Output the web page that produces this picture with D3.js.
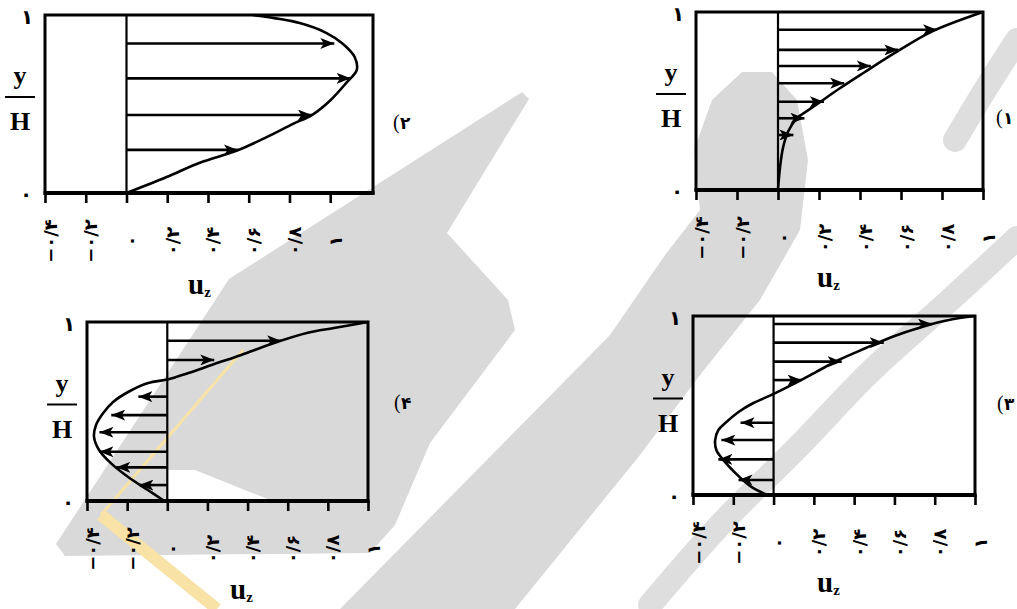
<!DOCTYPE html>
<html><head><meta charset="utf-8">
<script src="https://cdn.jsdelivr.net/npm/d3@7"></script>
<style>body{margin:0;background:#fff}svg{display:block}</style>
</head><body><svg id="c" width="1017" height="609"></svg>
<script>
// ---------- data ----------
const xTicks = [-0.4, -0.2, 0, 0.2, 0.4, 0.6, 0.8, 1];
const xTickLabels = ["−۰/۴", "−۰/۲", "۰", "۰/۲", "۰/۴", "۰/۶", "۰/۸", "۱"];
const yEndLabels = ["۰", "۱"];
const panelNames = ["(۱", "(۲", "(۳", "(۴"];
const axisTitleX = "u", axisTitleXSub = "z", axisTitleYTop = "y", axisTitleYBottom = "H";

// panel (1): profile from zero at wall to 1 at top
const p1CurveY = [0, 0.13, 0.24, 0.33, 0.40, 0.45, 0.49, 0.57, 0.66, 0.77, 0.89, 1.0];
const p1CurveU = [0, 0.01, 0.025, 0.05, 0.09, 0.15, 0.20, 0.30, 0.42, 0.57, 0.75, 1.0];
const p1ArrowY = [0.309, 0.403, 0.496, 0.60, 0.697, 0.787, 0.90];
const p1ArrowU = [0.075, 0.129, 0.224, 0.323, 0.453, 0.587, 0.776];

// panel (2)
const p2CurveY = [0, 0.09, 0.17, 0.24, 0.315, 0.39, 0.438, 0.52, 0.62, 0.69, 0.764, 0.84, 0.90, 0.955, 1.0];
const p2CurveU = [0, 0.197, 0.36, 0.546, 0.69, 0.82, 0.91, 1.0, 1.08, 1.13, 1.12, 1.06, 0.98, 0.85, 0.62];
const p2ArrowY = [0.242, 0.438, 0.644, 0.84];
const p2ArrowU = [0.547, 0.91, 1.10, 1.02];

// panel (3)
const p3CurveY = [0, 0.045, 0.123, 0.196, 0.251, 0.307, 0.363, 0.408, 0.464, 0.514, 0.559, 0.615, 0.687, 0.754, 0.821, 0.883, 0.939, 0.978, 1.0];
const p3CurveU = [-0.03, -0.11, -0.19, -0.25, -0.284, -0.29, -0.274, -0.234, -0.174, -0.10, -0.01, 0.09, 0.21, 0.323, 0.458, 0.587, 0.736, 0.87, 1.0];
const p3ArrowY = [0.084, 0.199, 0.307, 0.404, 0.642, 0.745, 0.851, 0.955];
const p3ArrowU = [-0.174, -0.274, -0.259, -0.164, 0.139, 0.338, 0.547, 0.786];

// panel (4)
const p4CurveY = [0, 0.06, 0.134, 0.21, 0.285, 0.358, 0.425, 0.49, 0.553, 0.609, 0.659, 0.68, 0.715, 0.765, 0.816, 0.883, 0.94, 0.966, 1.0];
const p4CurveU = [-0.015, -0.095, -0.195, -0.28, -0.34, -0.365, -0.355, -0.32, -0.27, -0.195, -0.095, 0.005, 0.105, 0.234, 0.368, 0.532, 0.70, 0.83, 1.0];
const p4ArrowY = [0.089, 0.188, 0.275, 0.384, 0.48, 0.583, 0.788, 0.895];
const p4ArrowU = [-0.139, -0.254, -0.338, -0.338, -0.279, -0.144, 0.234, 0.567];

// ---------- layout ----------
const panels = [
  {name: panelNames[0], box: [696, 12, 983, 190], xMax: 1.0,  cY: p1CurveY, cU: p1CurveU, aY: p1ArrowY, aU: p1ArrowU, label: [996, 117], uzDx: 121, uzDy: 97},
  {name: panelNames[1], box: [45, 15, 373, 193],  xMax: 1.21, cY: p2CurveY, cU: p2CurveU, aY: p2ArrowY, aU: p2ArrowU, label: [393, 122], uzDx: 143, uzDy: 101},
  {name: panelNames[2], box: [693, 316, 975, 495], xMax: 1.0, cY: p3CurveY, cU: p3CurveU, aY: p3ArrowY, aU: p3ArrowU, label: [997, 403], uzDx: 124, uzDy: 97},
  {name: panelNames[3], box: [87, 322, 368, 501], xMax: 1.0,  cY: p4CurveY, cU: p4CurveU, aY: p4ArrowY, aU: p4ArrowU, label: [394, 402], uzDx: 143, uzDy: 98}
];

const svg = d3.select("#c");

// ---------- background watermark (decorative) ----------
const wm = svg.append("g").attr("class", "watermark");
const wmGray = "#d9d9d9";
const wmShapes = [
  [[522,92],[529,99],[447,233],[508,300],[515,330],[430,443],[395,525],[370,553],[65,556],[56,544],[229,279]],
  [[340,609],[515,609],[640,455],[700,375],[760,300],[800,230],[808,160],[797,100],[772,72],[742,72],[712,100],[694,150],[700,210],[665,255],[610,335]]
];
wm.selectAll("path.wm").data(wmShapes).join("path")
  .attr("class", "wm")
  .attr("d", d => d3.line().curve(d3.curveLinearClosed)(d))
  .attr("fill", wmGray);
wm.append("path")
  .attr("d", d3.line().curve(d3.curveLinearClosed)([[167,470],[195,470],[270,500],[167,500]]))
  .attr("fill", "#fff");
const wmStrokes = [
  [[650,605],[720,525],[800,445],[870,372],[950,300],[1017,238]],
  [[955,140],[985,90],[1017,40]]
];
wm.selectAll("path.ws").data(wmStrokes).join("path")
  .attr("class", "ws")
  .attr("d", d => d3.line().curve(d3.curveCatmullRom)(d))
  .attr("fill", "none").attr("stroke", "#dedede").attr("stroke-width", 24).attr("stroke-linecap", "round");
const wmYellow = [[[243,350],[101,515]], [[101,515],[217,609]]];
wm.selectAll("path.wy").data(wmYellow).join("path")
  .attr("class", "wy")
  .attr("d", d => d3.line()(d))
  .attr("fill", "none").attr("stroke", "#f9e2a6")
  .attr("stroke-width", (d, i) => i === 0 ? 3 : 12);

// ---------- arrow marker ----------
svg.append("defs").append("marker")
  .attr("id", "ah").attr("viewBox", "0 0 14 11")
  .attr("refX", 14).attr("refY", 5.5)
  .attr("markerWidth", 14).attr("markerHeight", 11)
  .attr("markerUnits", "userSpaceOnUse")
  .attr("orient", "auto")
  .append("path").attr("d", "M0,0 L14,5.5 L0,11 L3.5,5.5 Z").attr("fill", "#000");

const digitFont = "'DejaVu Sans', sans-serif";
const serifFont = "'Liberation Serif', 'Times New Roman', serif";

panels.forEach(p => {
  const [x0, y0, x1, y1] = p.box;
  const x = d3.scaleLinear().domain([-0.4, p.xMax]).range([x0, x1]);
  const y = d3.scaleLinear().domain([0, 1]).range([y1, y0]);
  const g = svg.append("g");

  // zero line
  g.append("line")
    .attr("x1", x(0)).attr("x2", x(0)).attr("y1", y(0)).attr("y2", y(1))
    .attr("stroke", "#000").attr("stroke-width", 2.2);

  // arrows
  const arrows = p.aY.map((v, i) => ({y: v, u: p.aU[i]}));
  g.selectAll("line.arrow").data(arrows).join("line")
    .attr("class", "arrow")
    .attr("x1", x(0)).attr("x2", d => x(d.u))
    .attr("y1", d => y(d.y)).attr("y2", d => y(d.y))
    .attr("stroke", "#000").attr("stroke-width", 2.6)
    .attr("marker-end", "url(#ah)");

  // profile curve
  const pts = p.cY.map((v, i) => ({y: v, u: p.cU[i]}));
  g.append("path")
    .datum(pts)
    .attr("d", d3.line().x(d => x(d.u)).y(d => y(d.y)).curve(d3.curveCatmullRom.alpha(0.5)))
    .attr("fill", "none").attr("stroke", "#000").attr("stroke-width", 2.6);

  // frame
  g.append("rect")
    .attr("x", x0).attr("y", y0).attr("width", x1 - x0).attr("height", y1 - y0)
    .attr("fill", "none").attr("stroke", "#000").attr("stroke-width", 3);
  g.append("line")
    .attr("x1", x0 - 1.5).attr("x2", x1 + 1.5).attr("y1", y1).attr("y2", y1)
    .attr("stroke", "#000").attr("stroke-width", 4);

  // bottom axis
  const ax = g.append("g").attr("transform", `translate(0,${y1})`)
    .call(d3.axisBottom(x).tickValues(xTicks).tickSizeInner(10).tickSizeOuter(0)
      .tickFormat((d, i) => xTickLabels[i]));
  ax.select(".domain").remove();
  ax.selectAll(".tick line").attr("stroke", "#000").attr("stroke-width", 2.6);
  ax.selectAll(".tick text")
    .attr("transform", "rotate(-90)")
    .attr("x", -48).attr("y", 11).attr("dy", null)
    .style("text-anchor", "middle")
    .style("font-family", digitFont).style("font-size", "18px").style("font-weight", "bold")
    .style("letter-spacing", "2px")
    .attr("fill", "#000");

  // y end labels
  g.append("text").attr("x", x0 - 18).attr("y", y(1) + 2)
    .attr("text-anchor", "middle").attr("dominant-baseline", "central")
    .style("font-family", digitFont).style("font-size", "20px").style("font-weight", "bold")
    .text(yEndLabels[1]);
  g.append("text").attr("x", x0 - 19).attr("y", y(0) + 1)
    .attr("text-anchor", "middle").attr("dominant-baseline", "central")
    .style("font-family", digitFont).style("font-size", "20px").style("font-weight", "bold")
    .text(yEndLabels[0]);

  // y/H fraction
  const cy = (y0 + y1) / 2;
  g.append("text").attr("x", x0 - 25).attr("y", cy - 20)
    .attr("text-anchor", "middle")
    .style("font-family", serifFont).style("font-size", "26px").style("font-weight", "bold")
    .text(axisTitleYTop);
  g.append("line").attr("x1", x0 - 40).attr("x2", x0 - 10).attr("y1", cy - 7).attr("y2", cy - 7)
    .attr("stroke", "#000").attr("stroke-width", 2);
  g.append("text").attr("x", x0 - 25).attr("y", cy + 26)
    .attr("text-anchor", "middle")
    .style("font-family", serifFont).style("font-size", "26px").style("font-weight", "bold")
    .text(axisTitleYBottom);

  // u_z
  const ut = g.append("text").attr("x", x0 + p.uzDx).attr("y", y1 + p.uzDy)
    .style("font-family", serifFont).style("font-weight", "bold").style("font-size", "29px")
    .text(axisTitleX);
  ut.append("tspan").attr("dy", 3).style("font-size", "15px").text(axisTitleXSub);

  // panel label: "(" then the number, each as its own text so the order stays visual
  const parts = [p.name.slice(0, 1), p.name.slice(1)];
  g.append("text").attr("x", p.label[0]).attr("y", p.label[1])
    .attr("dominant-baseline", "central")
    .style("font-family", serifFont).style("font-size", "20px")
    .text(parts[0]);
  g.append("text").attr("x", p.label[0] + 7).attr("y", p.label[1] + 1)
    .attr("dominant-baseline", "central")
    .style("font-family", digitFont).style("font-size", "17px").style("font-weight", "bold")
    .text(parts[1]);
});
</script>
</body></html>
